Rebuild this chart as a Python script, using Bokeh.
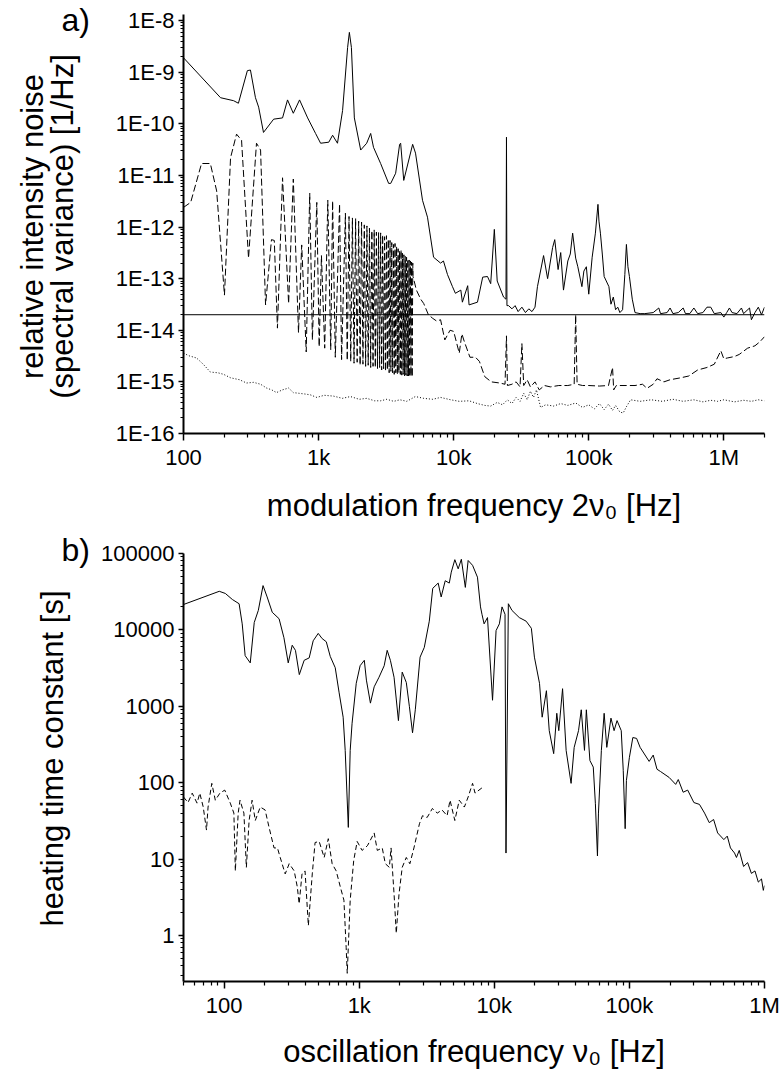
from math import pi, log10
from bokeh.plotting import figure
from bokeh.layouts import column, row
from bokeh.models import FixedTicker, Span, Range1d, Label
from bokeh.embed import file_html
from bokeh.resources import INLINE

FONT = "Liberation Sans"

# ---------------- panel a) data ----------------
A_X_TICKS = [100, 1000, 10000, 100000, 1000000]
A_X_LABELS = ["100", "1k", "10k", "100k", "1M"]
A_Y_TICKS = [1e-16, 1e-15, 1e-14, 1e-13, 1e-12, 1e-11, 1e-10, 1e-9, 1e-8]
A_Y_LABELS = ["1E-16", "1E-15", "1E-14", "1E-13", "1E-12", "1E-11", "1E-10", "1E-9", "1E-8"]
A_Y_TITLE = ["relative intensity noise", "(spectral variance) [1/Hz]"]
A_X_TITLE = "modulation frequency 2\u03bd\u2080 [Hz]"
REF_LEVEL = 2e-14

A_SOLID_F = [100, 188, 235, 255, 297, 313, 341, 360, 391, 465, 541, 589, 650, 723, 830, 950,
             1035, 1190, 1270, 1380, 1505, 1640, 1690, 1750, 1840, 2050, 2270, 2430, 2550, 2880,
             3300, 3420, 3720, 3980, 4050, 4270, 4970, 5220, 5880, 6400, 7100, 8000, 8400, 9000,
             9800, 10300, 11300, 11600, 12700, 13000, 15000, 16400, 17800, 18800, 20000, 21000,
             23400, 24400, 24600, 24800, 25500, 27000, 28500, 30000, 32000, 34000, 36000, 38000,
             40000, 41700, 46300, 49600, 54000, 56000, 59300, 62000, 65000, 70000, 73000, 76000,
             80000, 83000, 89000, 92000, 96000, 100000, 106000, 112000, 117000, 119000, 122000,
             126000, 130000, 141000, 146000, 152000, 158000, 164000, 170000, 178000, 185000,
             190000, 195000, 200000, 210000, 220000, 240000, 260000, 300000, 330000, 340000,
             380000, 400000, 420000, 460000, 500000, 520000, 560000, 600000, 640000, 700000,
             750000, 800000, 850000, 950000, 1000000, 1050000, 1100000, 1150000, 1250000,
             1350000, 1400000, 1550000, 1600000, 1700000, 1800000, 1900000, 2000000]
A_SOLID_V = [1.9e-9, 3.2e-10, 2.8e-10, 2.5e-10, 1.07e-9, 1.1e-9, 3.2e-10, 2.1e-10, 6.8e-11,
             1.23e-10, 1.3e-10, 2.9e-10, 1.6e-10, 2.9e-10, 1.3e-10, 6.5e-11, 4.2e-11, 4.4e-11,
             6e-11, 4.2e-11, 1.8e-10, 3e-9, 5.9e-9, 3e-9, 1.3e-10, 3.1e-11, 4.2e-11, 6.5e-11,
             3.5e-11, 1.7e-11, 7e-12, 7e-12, 1.1e-11, 4e-11, 4.2e-11, 8e-12, 4e-11, 2.7e-11,
             3.3e-12, 1.55e-12, 2.6e-13, 2e-13, 2.2e-13, 1.2e-13, 7e-14, 5.2e-14, 6e-14, 3.5e-14,
             7.3e-14, 3.1e-14, 3.5e-14, 1.07e-13, 1.1e-13, 8e-14, 9e-13, 9e-14, 4.4e-14, 4e-14,
             5.5e-11, 3e-14, 3e-14, 2.6e-14, 3e-14, 2.3e-14, 2.8e-14, 2.2e-14, 2.6e-14, 2.3e-14,
             2.8e-14, 7e-14, 2.8e-13, 1e-13, 4e-13, 5.7e-13, 1.5e-13, 3.2e-13, 6e-14, 2.2e-13,
             3e-13, 7.6e-13, 2.5e-13, 1.7e-13, 7e-14, 1.4e-13, 1.7e-13, 5e-14, 2.6e-13, 7.6e-13,
             2.75e-12, 1.3e-12, 7.6e-13, 3e-13, 1.1e-13, 7e-14, 3.2e-14, 4.4e-14, 2.5e-14, 2.8e-14,
             2.2e-14, 2.5e-14, 1.2e-13, 4.6e-13, 1.7e-13, 1.1e-13, 4e-14, 2.2e-14, 2.1e-14, 2.1e-14,
             2.2e-14, 2.7e-14, 2.1e-14, 2.2e-14, 2.7e-14, 2.1e-14, 2.2e-14, 2.7e-14, 2.1e-14,
             2.1e-14, 2.7e-14, 2.1e-14, 2.2e-14, 2.8e-14, 2.8e-14, 2.1e-14, 2.2e-14, 1.8e-14,
             2.2e-14, 2.7e-14, 2.2e-14, 2.1e-14, 2.7e-14, 2.1e-14, 2.7e-14, 1.6e-14, 2.2e-14,
             2.8e-14, 2.0e-14, 2.8e-14]

A_DASH_F = [100, 113, 136, 158, 176, 201, 223, 247, 269, 303, 347, 372, 405, 448, 470, 496, 541,
            600, 650, 710, 750, 810, 860, 900, 970, 1010, 1050, 1110, 1170, 1230, 1270, 1330,
            1430, 1480, 1580, 1630, 1680, 1730, 1780, 1830, 1880, 1930, 1980, 2030, 2080, 2130,
            2180, 2230, 2280, 2330, 2380, 2430, 2480, 2530, 2580, 2630, 2680, 2730, 2780, 2830,
            2880, 2930, 2980, 3030, 3080, 3130, 3180, 3230, 3280, 3330, 3380, 3430, 3480, 3530,
            3580, 3630, 3680, 3730, 3780, 3830, 3880, 3930, 3980, 4030, 4080, 4130, 4180, 4230,
            4280, 4330, 4380, 4430, 4480, 4530, 4580, 4630, 4680, 4730, 4780, 4830, 4880, 4930,
            4980, 5000, 5300, 5700, 6000, 6500, 7000, 7500, 8000, 8600, 9400, 10000, 11000,
            11500, 12000, 13200, 14500, 15500, 17000, 19000, 22000, 24000, 24600, 25000, 27000,
            29000, 31000, 32000, 33000, 35000, 37000, 40000, 43000, 47000, 52000, 60000, 70000,
            78000, 80000, 82000, 90000, 100000, 120000, 140000, 150000, 153000, 160000, 190000,
            220000, 250000, 270000, 300000, 320000, 360000, 400000, 480000, 550000, 640000,
            750000, 850000, 950000, 1000000, 1060000, 1200000, 1300000, 1500000, 1700000,
            1850000, 2000000]
A_DASH_V = [2.4e-12, 3e-12, 1.7e-11, 1.7e-11, 5e-12, 4.8e-14, 2.2e-11, 6.3e-11, 4.8e-11, 2.5e-13,
            4.2e-11, 3.1e-11, 3.1e-14, 5.7e-13, 5.5e-13, 1.1e-14, 9e-12, 3.3e-14, 8.5e-12, 9e-15,
            4.5e-13, 3.8e-15, 4.5e-12, 6.5e-15, 3e-12, 4.8e-15, 2.8e-13, 4.5e-15, 3.3e-12,
            4.2e-15, 3.2e-12, 3e-15, 2.8e-12, 2.7e-15, 1.85e-12, 2.6e-15, 1.6e-12, 2.5e-15,
            1.5e-12, 2.3e-15, 1.45e-12, 2.4e-15, 1.3e-12, 2.1e-15, 1.25e-12, 2.2e-15, 1.1e-12,
            2.0e-15, 1.05e-12, 2.1e-15, 9.5e-13, 1.9e-15, 8.5e-13, 2.0e-15, 8.8e-13, 1.9e-15,
            8e-13, 1.8e-15, 7.8e-13, 1.9e-15, 7.7e-13, 1.7e-15, 7e-13, 1.8e-15, 6.5e-13, 1.6e-15,
            6.8e-13, 1.7e-15, 5.8e-13, 1.5e-15, 5.5e-13, 1.6e-15, 5e-13, 1.5e-15, 4.6e-13,
            1.4e-15, 4.8e-13, 1.5e-15, 4.2e-13, 1.4e-15, 3.8e-13, 1.5e-15, 3.5e-13, 1.4e-15,
            3.6e-13, 1.35e-15, 3.1e-13, 1.4e-15, 2.9e-13, 1.3e-15, 2.7e-13, 1.35e-15, 2.6e-13,
            1.3e-15, 2.4e-13, 1.3e-15, 2.3e-13, 1.25e-15, 2.2e-13, 1.3e-15, 2.1e-13, 1.25e-15,
            2e-13, 1.1e-13, 6e-14, 4e-14, 3.3e-14, 2e-14, 1.7e-14, 1.5e-14, 1.6e-14, 6.5e-15,
            1e-14, 9.5e-15, 3.6e-15, 8.5e-15, 6e-15, 3e-15, 3e-15, 2.5e-15, 1.26e-15, 1e-15,
            9.5e-16, 9e-16, 7.8e-15, 8.5e-16, 9e-16, 1e-15, 8e-16, 5.5e-15, 8.5e-16, 1.1e-15,
            8e-16, 1e-15, 7e-16, 8.5e-16, 8e-16, 8.5e-16, 8.5e-16, 9e-16, 2e-14, 9e-16, 8.5e-16,
            8.5e-16, 8.3e-16, 8.5e-16, 1.9e-15, 7e-16, 8.5e-16, 8.5e-16, 8.5e-16, 9e-16, 7.5e-16,
            9e-16, 1.15e-15, 1e-15, 1.1e-15, 1.2e-15, 1.3e-15, 1.7e-15, 1.9e-15, 2.2e-15, 4e-15,
            2.8e-15, 2.9e-15, 3.1e-15, 3.4e-15, 4.5e-15, 5e-15, 6e-15, 7.5e-15]

A_DOT_F = [100, 110, 125, 140, 158, 180, 198, 223, 260, 293, 330, 372, 412, 450, 488, 540, 600,
           650, 720, 800, 870, 970, 1100, 1290, 1500, 1720, 2000, 2270, 2600, 2880, 3200, 3600,
           4000, 4500, 5200, 6000, 7000, 8000, 9500, 11000, 13000, 15000, 17000, 18800, 21000,
           23000, 25000, 27000, 29000, 31000, 33000, 35000, 37000, 39000, 41000, 44000, 48000,
           55000, 62000, 70000, 80000, 90000, 100000, 110000, 120000, 130000, 140000, 150000,
           158000, 170000, 180000, 190000, 204000, 240000, 290000, 350000, 420000, 500000,
           600000, 700000, 800000, 900000, 1000000, 1200000, 1400000, 1600000, 1800000, 2000000]
A_DOT_V = [3.6e-15, 3.2e-15, 2.9e-15, 2.2e-15, 1.55e-15, 1.5e-15, 1.4e-15, 1.2e-15, 1.1e-15,
           9.5e-16, 9.8e-16, 9e-16, 7.6e-16, 7e-16, 6.2e-16, 7e-16, 7.6e-16, 6.2e-16, 6e-16,
           5.8e-16, 5.6e-16, 5e-16, 5.5e-16, 5.3e-16, 4.8e-16, 5.2e-16, 4.6e-16, 4.8e-16,
           4.3e-16, 4.3e-16, 4.6e-16, 4.2e-16, 4.5e-16, 4.2e-16, 5.2e-16, 4.8e-16, 4.6e-16,
           5e-16, 4.5e-16, 4.2e-16, 4.3e-16, 3.8e-16, 3.5e-16, 3.4e-16, 4e-16, 3.6e-16, 4.5e-16,
           3.8e-16, 5e-16, 4.2e-16, 6e-16, 4.5e-16, 6.6e-16, 5e-16, 7e-16, 3.2e-16, 3.6e-16,
           3.4e-16, 3.8e-16, 3.5e-16, 3.9e-16, 3.2e-16, 3.6e-16, 3e-16, 3.8e-16, 2.9e-16,
           3.7e-16, 2.8e-16, 3.5e-16, 2.6e-16, 2.5e-16, 3.3e-16, 4.5e-16, 4.2e-16, 4.5e-16,
           4.2e-16, 4.6e-16, 4.2e-16, 4.5e-16, 4.1e-16, 4.4e-16, 4.2e-16, 4.5e-16, 4.1e-16,
           4.4e-16, 4.2e-16, 4.5e-16, 4.3e-16]

# ---------------- panel b) data ----------------
B_X_TICKS = [100, 1000, 10000, 100000, 1000000]
B_X_LABELS = ["100", "1k", "10k", "100k", "1M"]
B_Y_TICKS = [1, 10, 100, 1000, 10000, 100000]
B_Y_LABELS = ["1", "10", "100", "1000", "10000", "100000"]
B_Y_TITLE = ["heating time constant [s]"]
B_X_TITLE = "oscillation frequency \u03bd\u2080 [Hz]"

B_SOLID_F = [50, 92, 102, 115, 129, 136, 143, 156, 167, 179, 194, 208, 227, 255, 277, 298, 319,
             337, 360, 391, 426, 456, 497, 531, 570, 610, 664, 710, 760, 787, 830, 857, 885, 950,
             1015, 1090, 1130, 1210, 1290, 1400, 1530, 1610, 1700, 1810, 1950, 2080, 2230, 2350,
             2480, 2600, 2820, 3030, 3300, 3500, 3840, 4040, 4330, 4640, 4800, 5100, 5400, 5700,
             6100, 6400, 6900, 7500, 7900, 8100, 8400, 8900, 9700, 10300, 10900, 11400, 12000,
             12200, 12700, 13500, 15300, 17200, 18800, 19800, 21600, 22600, 24300, 25500, 27500,
             29000, 30000, 32000, 34000, 37000, 39000, 42000, 44000, 46500, 48000, 51000, 54000,
             56000, 58000, 59000, 62000, 65000, 68000, 73000, 77000, 81000, 87000, 90000, 93000,
             95000, 100000, 106000, 113000, 120000, 140000, 150000, 160000, 170000, 197000,
             220000, 230000, 250000, 270000, 300000, 330000, 360000, 390000, 420000, 450000,
             500000, 530000, 560000, 600000, 620000, 650000, 700000, 750000, 800000, 850000,
             900000, 950000, 980000, 1000000]
B_SOLID_V = [21500, 32000, 30000, 25000, 22000, 12000, 4600, 3700, 12500, 18000, 38000, 27000,
             17000, 14000, 7900, 3700, 6300, 5400, 2600, 4000, 4300, 7200, 9000, 7700, 7000, 4500,
             3200, 1500, 720, 265, 26, 265, 600, 2000, 3400, 4000, 2200, 1100, 1800, 2400, 3400,
             5400, 4000, 2400, 650, 2800, 2050, 1000, 450, 900, 4400, 5900, 13000, 35000, 41000,
             27000, 44000, 41000, 57000, 83000, 63000, 84000, 36000, 81000, 70000, 49000, 20000,
             16000, 12000, 14500, 1200, 9800, 12000, 20000, 16000, 12, 22000, 18000, 14500, 13000,
             10500, 4400, 2000, 720, 1600, 480, 240, 810, 480, 1700, 265, 98, 290, 480, 900, 265,
             900, 195, 160, 53, 11, 40, 265, 810, 290, 700, 480, 650, 480, 145, 25, 107, 215, 390,
             380, 290, 190, 230, 150, 140, 117, 95, 110, 75, 80, 55, 52, 40, 30, 33, 22, 18, 20,
             14, 12, 10.5, 13, 8, 9, 6.5, 7, 5, 5.5, 3.9, 4.5]

B_DASH_F = [50, 54, 58, 63, 66, 70, 74, 76, 81, 86, 93, 101, 111, 118, 121, 127, 131, 140, 146,
            153, 161, 170, 185, 201, 215, 234, 248, 260, 283, 303, 330, 348, 359, 377, 397, 420,
            449, 471, 505, 550, 590, 630, 675, 725, 770, 800, 815, 857, 910, 965, 1050, 1150,
            1290, 1360, 1480, 1560, 1670, 1720, 1810, 1880, 1970, 2080, 2230, 2370, 2540, 2790,
            2940, 3180, 3480, 3780, 4100, 4470, 4700, 5100, 5500, 6000, 6400, 6900, 7200, 7700,
            8200]
B_DASH_V = [65, 55, 73, 54, 73, 48, 24, 48, 98, 59, 73, 80, 54, 40, 7, 40, 59, 40, 7.8, 32, 59,
            32, 48, 44, 26, 14, 14, 10.5, 6.4, 8.7, 7, 4.3, 2.6, 6.4, 7, 1.35, 6.4, 16.5, 17,
            10.5, 18.5, 8.7, 7, 4.3, 2.9, 0.7, 0.32, 2.9, 9.6, 17, 13, 15, 22, 13, 14, 8.7, 7.8,
            14, 3.5, 1.07, 3.5, 7.8, 10.5, 8.7, 14, 29, 37, 35, 46, 40, 44, 37, 59, 32, 59, 48,
            65, 98, 73, 80, 87]

# ---------------- layout (pixels) ----------------
SIDE_W = 94                    # left strip holding the panel letter and the y title
FRAME_W = 581
# panel a: visible axis from 1E-16 to 1.31E-8 over 419 px; the frame is extended 14 px upward
A_AX_LO, A_AX_HI, A_AX_PX, A_EXTRA = 1e-16, 1.31e-8, 419, 14
A_FRAME_H, A_BOTTOM = A_AX_PX + A_EXTRA, 100
# panel b: visible axis from 0.25 to 1E5 over 428 px; the frame is extended 20 px upward
B_AX_LO, B_AX_HI, B_AX_PX, B_EXTRA = 0.25, 1e5, 428, 20
B_FRAME_H, B_BOTTOM = B_AX_PX + B_EXTRA, 87


def extended_top(lo, hi, px, extra):
    span = log10(hi) - log10(lo)
    return 10 ** (log10(hi) + span * extra / px)


def log_minor(lo_exp, hi_exp):
    return [m * 10.0 ** e for e in range(lo_exp, hi_exp + 1) for m in range(2, 10)]


def style_axes(p, xt, xl, yt, yl, xminor, yminor):
    p.xaxis.ticker = FixedTicker(ticks=xt, minor_ticks=xminor)
    p.yaxis.ticker = FixedTicker(ticks=yt, minor_ticks=yminor)
    p.xaxis.major_label_overrides = dict(zip(xt, xl))
    p.yaxis.major_label_overrides = dict(zip(yt, yl))
    p.xgrid.visible = False
    p.ygrid.visible = False
    p.outline_line_color = None
    for ax in (p.xaxis, p.yaxis):
        ax.axis_line_width = 2
        ax.axis_line_color = "black"
        ax.major_tick_line_width = 1.5
        ax.major_tick_line_color = "black"
        ax.minor_tick_line_width = 1.2
        ax.minor_tick_line_color = "black"
        ax.major_tick_in = 0
        ax.minor_tick_in = 0
        ax.major_label_text_font = FONT
        ax.major_label_text_font_size = "22px"
        ax.major_label_text_color = "black"
        ax.axis_label_text_font = FONT
        ax.axis_label_text_font_style = "normal"
        ax.axis_label_text_color = "black"
        ax.axis_label_text_font_size = "31px"
    p.xaxis.major_tick_out = 7
    p.xaxis.minor_tick_out = 4
    p.xaxis.major_label_standoff = 4
    p.yaxis.major_tick_out = 5
    p.yaxis.minor_tick_out = 3
    p.yaxis.major_label_standoff = 4


def side_strip(frame_h, bottom, letter, letter_mid_from_top, titles, title_mids_x, title_center_from_top):
    # strip whose frame lines up with the neighbouring plot frame (top at 0, bottom at frame_h);
    # Label screen units are pixels from the frame's bottom-left corner
    s = figure(width=SIDE_W, height=frame_h + bottom, x_range=Range1d(0, SIDE_W),
               y_range=Range1d(0, frame_h), title=None,
               min_border_left=0, min_border_right=0, min_border_top=0, min_border_bottom=bottom,
               x_axis_location=None, y_axis_location=None,
               output_backend="svg", toolbar_location=None)
    s.grid.visible = False
    s.outline_line_color = None
    s.add_layout(Label(x=61, y=frame_h - letter_mid_from_top, x_units="screen", y_units="screen",
                       text=letter, text_font=FONT, text_font_size="32px", text_color="black",
                       text_align="left", text_baseline="middle"))
    for t, mx in zip(titles, title_mids_x):
        s.add_layout(Label(x=mx, y=frame_h - title_center_from_top, x_units="screen", y_units="screen",
                           text=t, angle=pi / 2, text_font=FONT, text_font_size="31px",
                           text_color="black", text_align="center", text_baseline="middle"))
    return s


# ---------------- figure a ----------------
pa = figure(x_axis_type="log", y_axis_type="log",
            x_range=Range1d(100, 2e6),
            y_range=Range1d(A_AX_LO, extended_top(A_AX_LO, A_AX_HI, A_AX_PX, A_EXTRA)),
            frame_width=FRAME_W, frame_height=A_FRAME_H, title=None,
            min_border_left=183 - SIDE_W, min_border_right=18,
            min_border_top=0, min_border_bottom=A_BOTTOM,
            output_backend="svg", toolbar_location=None)
style_axes(pa, A_X_TICKS, A_X_LABELS, A_Y_TICKS, A_Y_LABELS, log_minor(2, 6), log_minor(-16, -9))
pa.yaxis.bounds = (A_AX_LO, A_AX_HI)
pa.xaxis.axis_label = A_X_TITLE
pa.xaxis.axis_label_standoff = 15

pa.line(A_DOT_F, A_DOT_V, line_color="black", line_width=1, line_dash="1 2")
pa.line(A_DASH_F, A_DASH_V, line_color="black", line_width=1, line_dash="7 3")
pa.line(A_SOLID_F, A_SOLID_V, line_color="black", line_width=1)
pa.add_layout(Span(location=REF_LEVEL, dimension="width", line_color="black", line_width=1))

sa = side_strip(A_FRAME_H, A_BOTTOM, "a)", 19, A_Y_TITLE, [32, 62], 226)

# ---------------- figure b ----------------
pb = figure(x_axis_type="log", y_axis_type="log",
            x_range=Range1d(50, 1e6),
            y_range=Range1d(B_AX_LO, extended_top(B_AX_LO, B_AX_HI, B_AX_PX, B_EXTRA)),
            frame_width=FRAME_W, frame_height=B_FRAME_H, title=None,
            min_border_left=183 - SIDE_W, min_border_right=18,
            min_border_top=0, min_border_bottom=B_BOTTOM,
            output_backend="svg", toolbar_location=None)
style_axes(pb, B_X_TICKS, B_X_LABELS, B_Y_TICKS, B_Y_LABELS, log_minor(1, 5), log_minor(-1, 4))
pb.yaxis.bounds = (B_AX_LO, B_AX_HI)
pb.xaxis.axis_label = B_X_TITLE
pb.xaxis.axis_label_standoff = 13

pb.line(B_DASH_F, B_DASH_V, line_color="black", line_width=1, line_dash="5 3")
pb.line(B_SOLID_F, B_SOLID_V, line_color="black", line_width=1)

sb = side_strip(B_FRAME_H, B_BOTTOM, "b)", 19, B_Y_TITLE, [52], 228)

layout = column(row(sa, pa), row(sb, pb))
open("out.html", "w").write(file_html(layout, INLINE))
